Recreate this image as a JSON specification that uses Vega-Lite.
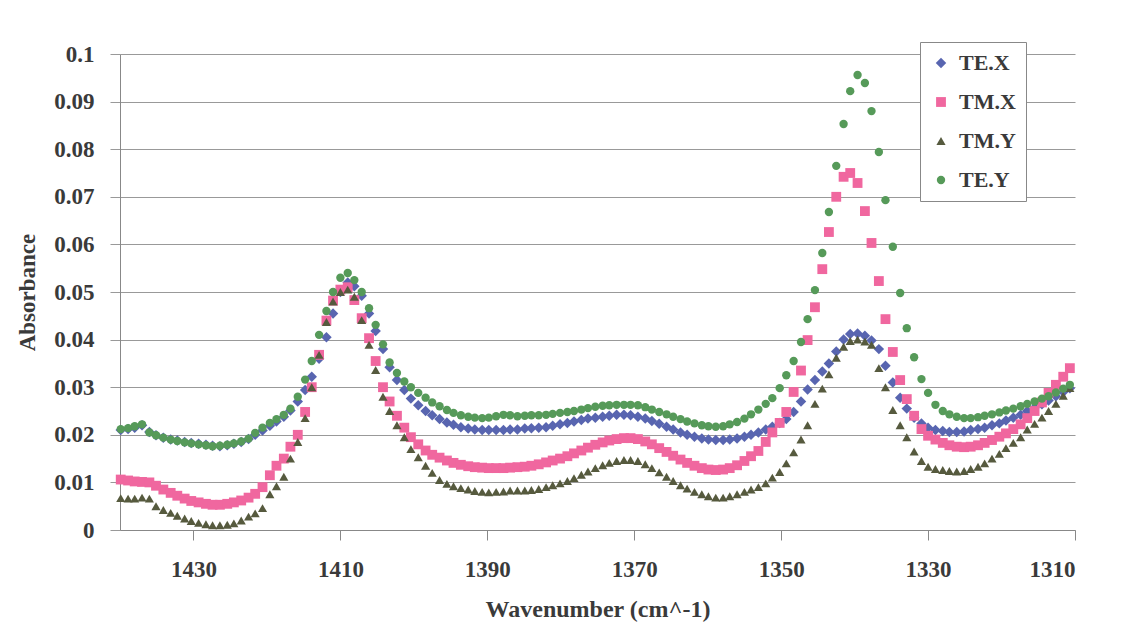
{
"$schema": "https://vega.github.io/schema/vega-lite/v6.json",
"width": 955, "height": 476,
"autosize": {"type": "none"},
"padding": {"left": 120, "top": 54, "right": 51, "bottom": 113},
"background": "white",
"config": {"view": {"stroke": null}, "font": "Times New Roman, Liberation Serif, DejaVu Serif, serif"},
"datasets": {"spec": [
{"w":1439.9,"s":"TE.X","a":0.0210},{"w":1438.9,"s":"TE.X","a":0.0212},{"w":1438.0,"s":"TE.X","a":0.0215},{"w":1437.0,"s":"TE.X","a":0.0220},{"w":1436.0,"s":"TE.X","a":0.0206},{"w":1435.1,"s":"TE.X","a":0.0199},{"w":1434.1,"s":"TE.X","a":0.0194},{"w":1433.1,"s":"TE.X","a":0.0190},{"w":1432.2,"s":"TE.X","a":0.0188},{"w":1431.2,"s":"TE.X","a":0.0185},{"w":1430.3,"s":"TE.X","a":0.0183},{"w":1429.3,"s":"TE.X","a":0.0181},{"w":1428.3,"s":"TE.X","a":0.0179},{"w":1427.4,"s":"TE.X","a":0.0177},{"w":1426.4,"s":"TE.X","a":0.0176},{"w":1425.4,"s":"TE.X","a":0.0178},{"w":1424.5,"s":"TE.X","a":0.0181},{"w":1423.5,"s":"TE.X","a":0.0185},{"w":1422.5,"s":"TE.X","a":0.0191},{"w":1421.6,"s":"TE.X","a":0.0200},{"w":1420.6,"s":"TE.X","a":0.0209},{"w":1419.6,"s":"TE.X","a":0.0219},{"w":1418.7,"s":"TE.X","a":0.0228},{"w":1417.7,"s":"TE.X","a":0.0238},{"w":1416.8,"s":"TE.X","a":0.0251},{"w":1415.8,"s":"TE.X","a":0.0270},{"w":1414.8,"s":"TE.X","a":0.0294},{"w":1413.9,"s":"TE.X","a":0.0322},{"w":1412.9,"s":"TE.X","a":0.0360},{"w":1411.9,"s":"TE.X","a":0.0405},{"w":1411.0,"s":"TE.X","a":0.0455},{"w":1410.0,"s":"TE.X","a":0.0500},{"w":1409.0,"s":"TE.X","a":0.0520},{"w":1408.1,"s":"TE.X","a":0.0512},{"w":1407.1,"s":"TE.X","a":0.0492},{"w":1406.1,"s":"TE.X","a":0.0455},{"w":1405.2,"s":"TE.X","a":0.0418},{"w":1404.2,"s":"TE.X","a":0.0380},{"w":1403.3,"s":"TE.X","a":0.0342},{"w":1402.3,"s":"TE.X","a":0.0315},{"w":1401.3,"s":"TE.X","a":0.0294},{"w":1400.4,"s":"TE.X","a":0.0276},{"w":1399.4,"s":"TE.X","a":0.0262},{"w":1398.4,"s":"TE.X","a":0.0250},{"w":1397.5,"s":"TE.X","a":0.0241},{"w":1396.5,"s":"TE.X","a":0.0233},{"w":1395.5,"s":"TE.X","a":0.0226},{"w":1394.6,"s":"TE.X","a":0.0221},{"w":1393.6,"s":"TE.X","a":0.0216},{"w":1392.6,"s":"TE.X","a":0.0213},{"w":1391.7,"s":"TE.X","a":0.0211},{"w":1390.7,"s":"TE.X","a":0.0210},{"w":1389.8,"s":"TE.X","a":0.0210},{"w":1388.8,"s":"TE.X","a":0.0210},{"w":1387.8,"s":"TE.X","a":0.0210},{"w":1386.9,"s":"TE.X","a":0.0211},{"w":1385.9,"s":"TE.X","a":0.0211},{"w":1384.9,"s":"TE.X","a":0.0213},{"w":1384.0,"s":"TE.X","a":0.0214},{"w":1383.0,"s":"TE.X","a":0.0215},{"w":1382.0,"s":"TE.X","a":0.0216},{"w":1381.1,"s":"TE.X","a":0.0219},{"w":1380.1,"s":"TE.X","a":0.0222},{"w":1379.1,"s":"TE.X","a":0.0225},{"w":1378.2,"s":"TE.X","a":0.0228},{"w":1377.2,"s":"TE.X","a":0.0231},{"w":1376.3,"s":"TE.X","a":0.0234},{"w":1375.3,"s":"TE.X","a":0.0236},{"w":1374.3,"s":"TE.X","a":0.0238},{"w":1373.4,"s":"TE.X","a":0.0240},{"w":1372.4,"s":"TE.X","a":0.0242},{"w":1371.4,"s":"TE.X","a":0.0242},{"w":1370.5,"s":"TE.X","a":0.0241},{"w":1369.5,"s":"TE.X","a":0.0238},{"w":1368.5,"s":"TE.X","a":0.0234},{"w":1367.6,"s":"TE.X","a":0.0229},{"w":1366.6,"s":"TE.X","a":0.0223},{"w":1365.6,"s":"TE.X","a":0.0217},{"w":1364.7,"s":"TE.X","a":0.0211},{"w":1363.7,"s":"TE.X","a":0.0205},{"w":1362.8,"s":"TE.X","a":0.0200},{"w":1361.8,"s":"TE.X","a":0.0196},{"w":1360.8,"s":"TE.X","a":0.0192},{"w":1359.9,"s":"TE.X","a":0.0190},{"w":1358.9,"s":"TE.X","a":0.0189},{"w":1357.9,"s":"TE.X","a":0.0189},{"w":1357.0,"s":"TE.X","a":0.0190},{"w":1356.0,"s":"TE.X","a":0.0192},{"w":1355.0,"s":"TE.X","a":0.0196},{"w":1354.1,"s":"TE.X","a":0.0200},{"w":1353.1,"s":"TE.X","a":0.0205},{"w":1352.1,"s":"TE.X","a":0.0211},{"w":1351.2,"s":"TE.X","a":0.0217},{"w":1350.2,"s":"TE.X","a":0.0225},{"w":1349.3,"s":"TE.X","a":0.0233},{"w":1348.3,"s":"TE.X","a":0.0248},{"w":1347.3,"s":"TE.X","a":0.0270},{"w":1346.4,"s":"TE.X","a":0.0295},{"w":1345.4,"s":"TE.X","a":0.0315},{"w":1344.4,"s":"TE.X","a":0.0333},{"w":1343.5,"s":"TE.X","a":0.0350},{"w":1342.5,"s":"TE.X","a":0.0375},{"w":1341.5,"s":"TE.X","a":0.0400},{"w":1340.6,"s":"TE.X","a":0.0412},{"w":1339.6,"s":"TE.X","a":0.0413},{"w":1338.6,"s":"TE.X","a":0.0408},{"w":1337.7,"s":"TE.X","a":0.0398},{"w":1336.7,"s":"TE.X","a":0.0380},{"w":1335.8,"s":"TE.X","a":0.0345},{"w":1334.8,"s":"TE.X","a":0.0310},{"w":1333.8,"s":"TE.X","a":0.0278},{"w":1332.9,"s":"TE.X","a":0.0255},{"w":1331.9,"s":"TE.X","a":0.0236},{"w":1330.9,"s":"TE.X","a":0.0224},{"w":1330.0,"s":"TE.X","a":0.0215},{"w":1329.0,"s":"TE.X","a":0.0210},{"w":1328.0,"s":"TE.X","a":0.0208},{"w":1327.1,"s":"TE.X","a":0.0206},{"w":1326.1,"s":"TE.X","a":0.0206},{"w":1325.1,"s":"TE.X","a":0.0207},{"w":1324.2,"s":"TE.X","a":0.0210},{"w":1323.2,"s":"TE.X","a":0.0212},{"w":1322.3,"s":"TE.X","a":0.0215},{"w":1321.3,"s":"TE.X","a":0.0220},{"w":1320.3,"s":"TE.X","a":0.0224},{"w":1319.4,"s":"TE.X","a":0.0230},{"w":1318.4,"s":"TE.X","a":0.0236},{"w":1317.4,"s":"TE.X","a":0.0242},{"w":1316.5,"s":"TE.X","a":0.0250},{"w":1315.5,"s":"TE.X","a":0.0257},{"w":1314.5,"s":"TE.X","a":0.0264},{"w":1313.6,"s":"TE.X","a":0.0272},{"w":1312.6,"s":"TE.X","a":0.0281},{"w":1311.6,"s":"TE.X","a":0.0290},{"w":1310.7,"s":"TE.X","a":0.0298},
{"w":1439.9,"s":"TM.X","a":0.0106},{"w":1438.9,"s":"TM.X","a":0.0104},{"w":1438.0,"s":"TM.X","a":0.0102},{"w":1437.0,"s":"TM.X","a":0.0101},{"w":1436.0,"s":"TM.X","a":0.0100},{"w":1435.1,"s":"TM.X","a":0.0093},{"w":1434.1,"s":"TM.X","a":0.0085},{"w":1433.1,"s":"TM.X","a":0.0078},{"w":1432.2,"s":"TM.X","a":0.0072},{"w":1431.2,"s":"TM.X","a":0.0066},{"w":1430.3,"s":"TM.X","a":0.0061},{"w":1429.3,"s":"TM.X","a":0.0058},{"w":1428.3,"s":"TM.X","a":0.0055},{"w":1427.4,"s":"TM.X","a":0.0053},{"w":1426.4,"s":"TM.X","a":0.0053},{"w":1425.4,"s":"TM.X","a":0.0055},{"w":1424.5,"s":"TM.X","a":0.0058},{"w":1423.5,"s":"TM.X","a":0.0062},{"w":1422.5,"s":"TM.X","a":0.0068},{"w":1421.6,"s":"TM.X","a":0.0076},{"w":1420.6,"s":"TM.X","a":0.0090},{"w":1419.6,"s":"TM.X","a":0.0115},{"w":1418.7,"s":"TM.X","a":0.0135},{"w":1417.7,"s":"TM.X","a":0.0150},{"w":1416.8,"s":"TM.X","a":0.0175},{"w":1415.8,"s":"TM.X","a":0.0200},{"w":1414.8,"s":"TM.X","a":0.0248},{"w":1413.9,"s":"TM.X","a":0.0300},{"w":1412.9,"s":"TM.X","a":0.0368},{"w":1411.9,"s":"TM.X","a":0.0440},{"w":1411.0,"s":"TM.X","a":0.0482},{"w":1410.0,"s":"TM.X","a":0.0505},{"w":1409.0,"s":"TM.X","a":0.0510},{"w":1408.1,"s":"TM.X","a":0.0483},{"w":1407.1,"s":"TM.X","a":0.0445},{"w":1406.1,"s":"TM.X","a":0.0403},{"w":1405.2,"s":"TM.X","a":0.0355},{"w":1404.2,"s":"TM.X","a":0.0300},{"w":1403.3,"s":"TM.X","a":0.0270},{"w":1402.3,"s":"TM.X","a":0.0240},{"w":1401.3,"s":"TM.X","a":0.0215},{"w":1400.4,"s":"TM.X","a":0.0195},{"w":1399.4,"s":"TM.X","a":0.0180},{"w":1398.4,"s":"TM.X","a":0.0167},{"w":1397.5,"s":"TM.X","a":0.0158},{"w":1396.5,"s":"TM.X","a":0.0152},{"w":1395.5,"s":"TM.X","a":0.0146},{"w":1394.6,"s":"TM.X","a":0.0141},{"w":1393.6,"s":"TM.X","a":0.0137},{"w":1392.6,"s":"TM.X","a":0.0134},{"w":1391.7,"s":"TM.X","a":0.0132},{"w":1390.7,"s":"TM.X","a":0.0131},{"w":1389.8,"s":"TM.X","a":0.0130},{"w":1388.8,"s":"TM.X","a":0.0130},{"w":1387.8,"s":"TM.X","a":0.0130},{"w":1386.9,"s":"TM.X","a":0.0131},{"w":1385.9,"s":"TM.X","a":0.0132},{"w":1384.9,"s":"TM.X","a":0.0133},{"w":1384.0,"s":"TM.X","a":0.0135},{"w":1383.0,"s":"TM.X","a":0.0138},{"w":1382.0,"s":"TM.X","a":0.0142},{"w":1381.1,"s":"TM.X","a":0.0146},{"w":1380.1,"s":"TM.X","a":0.0150},{"w":1379.1,"s":"TM.X","a":0.0155},{"w":1378.2,"s":"TM.X","a":0.0161},{"w":1377.2,"s":"TM.X","a":0.0167},{"w":1376.3,"s":"TM.X","a":0.0173},{"w":1375.3,"s":"TM.X","a":0.0179},{"w":1374.3,"s":"TM.X","a":0.0184},{"w":1373.4,"s":"TM.X","a":0.0188},{"w":1372.4,"s":"TM.X","a":0.0191},{"w":1371.4,"s":"TM.X","a":0.0193},{"w":1370.5,"s":"TM.X","a":0.0193},{"w":1369.5,"s":"TM.X","a":0.0191},{"w":1368.5,"s":"TM.X","a":0.0186},{"w":1367.6,"s":"TM.X","a":0.0180},{"w":1366.6,"s":"TM.X","a":0.0172},{"w":1365.6,"s":"TM.X","a":0.0164},{"w":1364.7,"s":"TM.X","a":0.0156},{"w":1363.7,"s":"TM.X","a":0.0148},{"w":1362.8,"s":"TM.X","a":0.0141},{"w":1361.8,"s":"TM.X","a":0.0135},{"w":1360.8,"s":"TM.X","a":0.0130},{"w":1359.9,"s":"TM.X","a":0.0127},{"w":1358.9,"s":"TM.X","a":0.0126},{"w":1357.9,"s":"TM.X","a":0.0127},{"w":1357.0,"s":"TM.X","a":0.0130},{"w":1356.0,"s":"TM.X","a":0.0136},{"w":1355.0,"s":"TM.X","a":0.0145},{"w":1354.1,"s":"TM.X","a":0.0155},{"w":1353.1,"s":"TM.X","a":0.0166},{"w":1352.1,"s":"TM.X","a":0.0185},{"w":1351.2,"s":"TM.X","a":0.0205},{"w":1350.2,"s":"TM.X","a":0.0225},{"w":1349.3,"s":"TM.X","a":0.0248},{"w":1348.3,"s":"TM.X","a":0.0290},{"w":1347.3,"s":"TM.X","a":0.0335},{"w":1346.4,"s":"TM.X","a":0.0399},{"w":1345.4,"s":"TM.X","a":0.0468},{"w":1344.4,"s":"TM.X","a":0.0548},{"w":1343.5,"s":"TM.X","a":0.0626},{"w":1342.5,"s":"TM.X","a":0.0700},{"w":1341.5,"s":"TM.X","a":0.0742},{"w":1340.6,"s":"TM.X","a":0.0750},{"w":1339.6,"s":"TM.X","a":0.0729},{"w":1338.6,"s":"TM.X","a":0.0670},{"w":1337.7,"s":"TM.X","a":0.0603},{"w":1336.7,"s":"TM.X","a":0.0523},{"w":1335.8,"s":"TM.X","a":0.0443},{"w":1334.8,"s":"TM.X","a":0.0374},{"w":1333.8,"s":"TM.X","a":0.0315},{"w":1332.9,"s":"TM.X","a":0.0275},{"w":1331.9,"s":"TM.X","a":0.0240},{"w":1330.9,"s":"TM.X","a":0.0212},{"w":1330.0,"s":"TM.X","a":0.0198},{"w":1329.0,"s":"TM.X","a":0.0190},{"w":1328.0,"s":"TM.X","a":0.0183},{"w":1327.1,"s":"TM.X","a":0.0178},{"w":1326.1,"s":"TM.X","a":0.0175},{"w":1325.1,"s":"TM.X","a":0.0174},{"w":1324.2,"s":"TM.X","a":0.0175},{"w":1323.2,"s":"TM.X","a":0.0178},{"w":1322.3,"s":"TM.X","a":0.0183},{"w":1321.3,"s":"TM.X","a":0.0189},{"w":1320.3,"s":"TM.X","a":0.0196},{"w":1319.4,"s":"TM.X","a":0.0203},{"w":1318.4,"s":"TM.X","a":0.0212},{"w":1317.4,"s":"TM.X","a":0.0222},{"w":1316.5,"s":"TM.X","a":0.0235},{"w":1315.5,"s":"TM.X","a":0.0250},{"w":1314.5,"s":"TM.X","a":0.0268},{"w":1313.6,"s":"TM.X","a":0.0288},{"w":1312.6,"s":"TM.X","a":0.0305},{"w":1311.6,"s":"TM.X","a":0.0322},{"w":1310.7,"s":"TM.X","a":0.0340},
{"w":1439.9,"s":"TM.Y","a":0.0067},{"w":1438.9,"s":"TM.Y","a":0.0066},{"w":1438.0,"s":"TM.Y","a":0.0066},{"w":1437.0,"s":"TM.Y","a":0.0068},{"w":1436.0,"s":"TM.Y","a":0.0066},{"w":1435.1,"s":"TM.Y","a":0.0050},{"w":1434.1,"s":"TM.Y","a":0.0042},{"w":1433.1,"s":"TM.Y","a":0.0036},{"w":1432.2,"s":"TM.Y","a":0.0030},{"w":1431.2,"s":"TM.Y","a":0.0024},{"w":1430.3,"s":"TM.Y","a":0.0019},{"w":1429.3,"s":"TM.Y","a":0.0015},{"w":1428.3,"s":"TM.Y","a":0.0012},{"w":1427.4,"s":"TM.Y","a":0.0010},{"w":1426.4,"s":"TM.Y","a":0.0010},{"w":1425.4,"s":"TM.Y","a":0.0011},{"w":1424.5,"s":"TM.Y","a":0.0014},{"w":1423.5,"s":"TM.Y","a":0.0020},{"w":1422.5,"s":"TM.Y","a":0.0028},{"w":1421.6,"s":"TM.Y","a":0.0035},{"w":1420.6,"s":"TM.Y","a":0.0046},{"w":1419.6,"s":"TM.Y","a":0.0075},{"w":1418.7,"s":"TM.Y","a":0.0092},{"w":1417.7,"s":"TM.Y","a":0.0112},{"w":1416.8,"s":"TM.Y","a":0.0150},{"w":1415.8,"s":"TM.Y","a":0.0185},{"w":1414.8,"s":"TM.Y","a":0.0235},{"w":1413.9,"s":"TM.Y","a":0.0300},{"w":1412.9,"s":"TM.Y","a":0.0368},{"w":1411.9,"s":"TM.Y","a":0.0437},{"w":1411.0,"s":"TM.Y","a":0.0480},{"w":1410.0,"s":"TM.Y","a":0.0500},{"w":1409.0,"s":"TM.Y","a":0.0505},{"w":1408.1,"s":"TM.Y","a":0.0490},{"w":1407.1,"s":"TM.Y","a":0.0441},{"w":1406.1,"s":"TM.Y","a":0.0389},{"w":1405.2,"s":"TM.Y","a":0.0336},{"w":1404.2,"s":"TM.Y","a":0.0280},{"w":1403.3,"s":"TM.Y","a":0.0250},{"w":1402.3,"s":"TM.Y","a":0.0220},{"w":1401.3,"s":"TM.Y","a":0.0195},{"w":1400.4,"s":"TM.Y","a":0.0170},{"w":1399.4,"s":"TM.Y","a":0.0153},{"w":1398.4,"s":"TM.Y","a":0.0135},{"w":1397.5,"s":"TM.Y","a":0.0120},{"w":1396.5,"s":"TM.Y","a":0.0105},{"w":1395.5,"s":"TM.Y","a":0.0097},{"w":1394.6,"s":"TM.Y","a":0.0092},{"w":1393.6,"s":"TM.Y","a":0.0088},{"w":1392.6,"s":"TM.Y","a":0.0085},{"w":1391.7,"s":"TM.Y","a":0.0082},{"w":1390.7,"s":"TM.Y","a":0.0080},{"w":1389.8,"s":"TM.Y","a":0.0079},{"w":1388.8,"s":"TM.Y","a":0.0080},{"w":1387.8,"s":"TM.Y","a":0.0081},{"w":1386.9,"s":"TM.Y","a":0.0083},{"w":1385.9,"s":"TM.Y","a":0.0083},{"w":1384.9,"s":"TM.Y","a":0.0083},{"w":1384.0,"s":"TM.Y","a":0.0084},{"w":1383.0,"s":"TM.Y","a":0.0086},{"w":1382.0,"s":"TM.Y","a":0.0090},{"w":1381.1,"s":"TM.Y","a":0.0094},{"w":1380.1,"s":"TM.Y","a":0.0098},{"w":1379.1,"s":"TM.Y","a":0.0103},{"w":1378.2,"s":"TM.Y","a":0.0109},{"w":1377.2,"s":"TM.Y","a":0.0116},{"w":1376.3,"s":"TM.Y","a":0.0123},{"w":1375.3,"s":"TM.Y","a":0.0130},{"w":1374.3,"s":"TM.Y","a":0.0136},{"w":1373.4,"s":"TM.Y","a":0.0141},{"w":1372.4,"s":"TM.Y","a":0.0145},{"w":1371.4,"s":"TM.Y","a":0.0147},{"w":1370.5,"s":"TM.Y","a":0.0147},{"w":1369.5,"s":"TM.Y","a":0.0145},{"w":1368.5,"s":"TM.Y","a":0.0138},{"w":1367.6,"s":"TM.Y","a":0.0130},{"w":1366.6,"s":"TM.Y","a":0.0121},{"w":1365.6,"s":"TM.Y","a":0.0112},{"w":1364.7,"s":"TM.Y","a":0.0103},{"w":1363.7,"s":"TM.Y","a":0.0094},{"w":1362.8,"s":"TM.Y","a":0.0087},{"w":1361.8,"s":"TM.Y","a":0.0080},{"w":1360.8,"s":"TM.Y","a":0.0075},{"w":1359.9,"s":"TM.Y","a":0.0071},{"w":1358.9,"s":"TM.Y","a":0.0068},{"w":1357.9,"s":"TM.Y","a":0.0068},{"w":1357.0,"s":"TM.Y","a":0.0071},{"w":1356.0,"s":"TM.Y","a":0.0075},{"w":1355.0,"s":"TM.Y","a":0.0080},{"w":1354.1,"s":"TM.Y","a":0.0085},{"w":1353.1,"s":"TM.Y","a":0.0090},{"w":1352.1,"s":"TM.Y","a":0.0098},{"w":1351.2,"s":"TM.Y","a":0.0110},{"w":1350.2,"s":"TM.Y","a":0.0122},{"w":1349.3,"s":"TM.Y","a":0.0140},{"w":1348.3,"s":"TM.Y","a":0.0163},{"w":1347.3,"s":"TM.Y","a":0.0190},{"w":1346.4,"s":"TM.Y","a":0.0220},{"w":1345.4,"s":"TM.Y","a":0.0265},{"w":1344.4,"s":"TM.Y","a":0.0297},{"w":1343.5,"s":"TM.Y","a":0.0327},{"w":1342.5,"s":"TM.Y","a":0.0362},{"w":1341.5,"s":"TM.Y","a":0.0385},{"w":1340.6,"s":"TM.Y","a":0.0397},{"w":1339.6,"s":"TM.Y","a":0.0400},{"w":1338.6,"s":"TM.Y","a":0.0396},{"w":1337.7,"s":"TM.Y","a":0.0389},{"w":1336.7,"s":"TM.Y","a":0.0340},{"w":1335.8,"s":"TM.Y","a":0.0300},{"w":1334.8,"s":"TM.Y","a":0.0252},{"w":1333.8,"s":"TM.Y","a":0.0220},{"w":1332.9,"s":"TM.Y","a":0.0195},{"w":1331.9,"s":"TM.Y","a":0.0165},{"w":1330.9,"s":"TM.Y","a":0.0145},{"w":1330.0,"s":"TM.Y","a":0.0133},{"w":1329.0,"s":"TM.Y","a":0.0128},{"w":1328.0,"s":"TM.Y","a":0.0126},{"w":1327.1,"s":"TM.Y","a":0.0124},{"w":1326.1,"s":"TM.Y","a":0.0123},{"w":1325.1,"s":"TM.Y","a":0.0124},{"w":1324.2,"s":"TM.Y","a":0.0128},{"w":1323.2,"s":"TM.Y","a":0.0133},{"w":1322.3,"s":"TM.Y","a":0.0140},{"w":1321.3,"s":"TM.Y","a":0.0150},{"w":1320.3,"s":"TM.Y","a":0.0160},{"w":1319.4,"s":"TM.Y","a":0.0172},{"w":1318.4,"s":"TM.Y","a":0.0183},{"w":1317.4,"s":"TM.Y","a":0.0195},{"w":1316.5,"s":"TM.Y","a":0.0211},{"w":1315.5,"s":"TM.Y","a":0.0223},{"w":1314.5,"s":"TM.Y","a":0.0236},{"w":1313.6,"s":"TM.Y","a":0.0250},{"w":1312.6,"s":"TM.Y","a":0.0265},{"w":1311.6,"s":"TM.Y","a":0.0282},{"w":1310.7,"s":"TM.Y","a":0.0298},
{"w":1439.9,"s":"TE.Y","a":0.0212},{"w":1438.9,"s":"TE.Y","a":0.0214},{"w":1438.0,"s":"TE.Y","a":0.0218},{"w":1437.0,"s":"TE.Y","a":0.0222},{"w":1436.0,"s":"TE.Y","a":0.0205},{"w":1435.1,"s":"TE.Y","a":0.0199},{"w":1434.1,"s":"TE.Y","a":0.0194},{"w":1433.1,"s":"TE.Y","a":0.0190},{"w":1432.2,"s":"TE.Y","a":0.0187},{"w":1431.2,"s":"TE.Y","a":0.0184},{"w":1430.3,"s":"TE.Y","a":0.0182},{"w":1429.3,"s":"TE.Y","a":0.0180},{"w":1428.3,"s":"TE.Y","a":0.0178},{"w":1427.4,"s":"TE.Y","a":0.0176},{"w":1426.4,"s":"TE.Y","a":0.0177},{"w":1425.4,"s":"TE.Y","a":0.0179},{"w":1424.5,"s":"TE.Y","a":0.0182},{"w":1423.5,"s":"TE.Y","a":0.0186},{"w":1422.5,"s":"TE.Y","a":0.0192},{"w":1421.6,"s":"TE.Y","a":0.0204},{"w":1420.6,"s":"TE.Y","a":0.0215},{"w":1419.6,"s":"TE.Y","a":0.0225},{"w":1418.7,"s":"TE.Y","a":0.0233},{"w":1417.7,"s":"TE.Y","a":0.0242},{"w":1416.8,"s":"TE.Y","a":0.0255},{"w":1415.8,"s":"TE.Y","a":0.0280},{"w":1414.8,"s":"TE.Y","a":0.0316},{"w":1413.9,"s":"TE.Y","a":0.0355},{"w":1412.9,"s":"TE.Y","a":0.0410},{"w":1411.9,"s":"TE.Y","a":0.0460},{"w":1411.0,"s":"TE.Y","a":0.0500},{"w":1410.0,"s":"TE.Y","a":0.0530},{"w":1409.0,"s":"TE.Y","a":0.0540},{"w":1408.1,"s":"TE.Y","a":0.0525},{"w":1407.1,"s":"TE.Y","a":0.0500},{"w":1406.1,"s":"TE.Y","a":0.0466},{"w":1405.2,"s":"TE.Y","a":0.0431},{"w":1404.2,"s":"TE.Y","a":0.0390},{"w":1403.3,"s":"TE.Y","a":0.0352},{"w":1402.3,"s":"TE.Y","a":0.0330},{"w":1401.3,"s":"TE.Y","a":0.0312},{"w":1400.4,"s":"TE.Y","a":0.0300},{"w":1399.4,"s":"TE.Y","a":0.0288},{"w":1398.4,"s":"TE.Y","a":0.0278},{"w":1397.5,"s":"TE.Y","a":0.0268},{"w":1396.5,"s":"TE.Y","a":0.0260},{"w":1395.5,"s":"TE.Y","a":0.0252},{"w":1394.6,"s":"TE.Y","a":0.0246},{"w":1393.6,"s":"TE.Y","a":0.0241},{"w":1392.6,"s":"TE.Y","a":0.0238},{"w":1391.7,"s":"TE.Y","a":0.0236},{"w":1390.7,"s":"TE.Y","a":0.0235},{"w":1389.8,"s":"TE.Y","a":0.0236},{"w":1388.8,"s":"TE.Y","a":0.0239},{"w":1387.8,"s":"TE.Y","a":0.0242},{"w":1386.9,"s":"TE.Y","a":0.0241},{"w":1385.9,"s":"TE.Y","a":0.0239},{"w":1384.9,"s":"TE.Y","a":0.0240},{"w":1384.0,"s":"TE.Y","a":0.0241},{"w":1383.0,"s":"TE.Y","a":0.0241},{"w":1382.0,"s":"TE.Y","a":0.0242},{"w":1381.1,"s":"TE.Y","a":0.0244},{"w":1380.1,"s":"TE.Y","a":0.0246},{"w":1379.1,"s":"TE.Y","a":0.0248},{"w":1378.2,"s":"TE.Y","a":0.0250},{"w":1377.2,"s":"TE.Y","a":0.0253},{"w":1376.3,"s":"TE.Y","a":0.0256},{"w":1375.3,"s":"TE.Y","a":0.0259},{"w":1374.3,"s":"TE.Y","a":0.0261},{"w":1373.4,"s":"TE.Y","a":0.0262},{"w":1372.4,"s":"TE.Y","a":0.0263},{"w":1371.4,"s":"TE.Y","a":0.0263},{"w":1370.5,"s":"TE.Y","a":0.0263},{"w":1369.5,"s":"TE.Y","a":0.0262},{"w":1368.5,"s":"TE.Y","a":0.0258},{"w":1367.6,"s":"TE.Y","a":0.0253},{"w":1366.6,"s":"TE.Y","a":0.0248},{"w":1365.6,"s":"TE.Y","a":0.0243},{"w":1364.7,"s":"TE.Y","a":0.0238},{"w":1363.7,"s":"TE.Y","a":0.0233},{"w":1362.8,"s":"TE.Y","a":0.0228},{"w":1361.8,"s":"TE.Y","a":0.0224},{"w":1360.8,"s":"TE.Y","a":0.0220},{"w":1359.9,"s":"TE.Y","a":0.0218},{"w":1358.9,"s":"TE.Y","a":0.0217},{"w":1357.9,"s":"TE.Y","a":0.0218},{"w":1357.0,"s":"TE.Y","a":0.0222},{"w":1356.0,"s":"TE.Y","a":0.0227},{"w":1355.0,"s":"TE.Y","a":0.0234},{"w":1354.1,"s":"TE.Y","a":0.0243},{"w":1353.1,"s":"TE.Y","a":0.0253},{"w":1352.1,"s":"TE.Y","a":0.0265},{"w":1351.2,"s":"TE.Y","a":0.0277},{"w":1350.2,"s":"TE.Y","a":0.0298},{"w":1349.3,"s":"TE.Y","a":0.0325},{"w":1348.3,"s":"TE.Y","a":0.0355},{"w":1347.3,"s":"TE.Y","a":0.0395},{"w":1346.4,"s":"TE.Y","a":0.0443},{"w":1345.4,"s":"TE.Y","a":0.0504},{"w":1344.4,"s":"TE.Y","a":0.0582},{"w":1343.5,"s":"TE.Y","a":0.0668},{"w":1342.5,"s":"TE.Y","a":0.0765},{"w":1341.5,"s":"TE.Y","a":0.0853},{"w":1340.6,"s":"TE.Y","a":0.0922},{"w":1339.6,"s":"TE.Y","a":0.0956},{"w":1338.6,"s":"TE.Y","a":0.0939},{"w":1337.7,"s":"TE.Y","a":0.0880},{"w":1336.7,"s":"TE.Y","a":0.0794},{"w":1335.8,"s":"TE.Y","a":0.0693},{"w":1334.8,"s":"TE.Y","a":0.0595},{"w":1333.8,"s":"TE.Y","a":0.0498},{"w":1332.9,"s":"TE.Y","a":0.0424},{"w":1331.9,"s":"TE.Y","a":0.0363},{"w":1330.9,"s":"TE.Y","a":0.0317},{"w":1330.0,"s":"TE.Y","a":0.0288},{"w":1329.0,"s":"TE.Y","a":0.0263},{"w":1328.0,"s":"TE.Y","a":0.0250},{"w":1327.1,"s":"TE.Y","a":0.0243},{"w":1326.1,"s":"TE.Y","a":0.0238},{"w":1325.1,"s":"TE.Y","a":0.0235},{"w":1324.2,"s":"TE.Y","a":0.0235},{"w":1323.2,"s":"TE.Y","a":0.0237},{"w":1322.3,"s":"TE.Y","a":0.0240},{"w":1321.3,"s":"TE.Y","a":0.0243},{"w":1320.3,"s":"TE.Y","a":0.0247},{"w":1319.4,"s":"TE.Y","a":0.0251},{"w":1318.4,"s":"TE.Y","a":0.0255},{"w":1317.4,"s":"TE.Y","a":0.0260},{"w":1316.5,"s":"TE.Y","a":0.0265},{"w":1315.5,"s":"TE.Y","a":0.0270},{"w":1314.5,"s":"TE.Y","a":0.0276},{"w":1313.6,"s":"TE.Y","a":0.0281},{"w":1312.6,"s":"TE.Y","a":0.0289},{"w":1311.6,"s":"TE.Y","a":0.0297},{"w":1310.7,"s":"TE.Y","a":0.0305}
]},
"data": {"name": "spec"},
"mark": {"type": "point", "filled": true, "opacity": 1},
"encoding": {
  "x": {"field": "w", "type": "quantitative",
    "scale": {"domain": [1310, 1440], "reverse": true, "nice": false, "zero": false},
    "axis": {"title": "Wavenumber (cm^-1)", "values": [1430, 1410, 1390, 1370, 1350, 1330, 1310], "format": "d",
      "grid": false, "domainColor": "#888", "tickColor": "#888", "tickSize": 10,
      "labelFont": "Times New Roman, Liberation Serif, serif", "labelFontSize": 23, "labelFontWeight": "bold", "labelColor": "#3a3a3a", "labelPadding": 18,
      "titleFont": "Times New Roman, Liberation Serif, serif", "titleFontSize": 24, "titleFontWeight": "bold", "titleColor": "#3a3a3a", "titlePadding": 16}},
  "y": {"field": "a", "type": "quantitative",
    "scale": {"domain": [0, 0.1], "nice": false},
    "axis": {"title": "Absorbance", "values": [0, 0.01, 0.02, 0.03, 0.04, 0.05, 0.06, 0.07, 0.08, 0.09, 0.1], "format": "~g",
      "grid": true, "gridColor": "#999", "gridWidth": 1, "domainColor": "#888", "tickColor": "#999", "tickSize": 10,
      "labelFont": "Times New Roman, Liberation Serif, serif", "labelFontSize": 23, "labelFontWeight": "bold", "labelColor": "#3a3a3a", "labelPadding": 16,
      "titleFont": "Times New Roman, Liberation Serif, serif", "titleFontSize": 23, "titleFontWeight": "bold", "titleColor": "#3a3a3a", "titlePadding": 14}},
  "color": {"field": "s", "type": "nominal",
    "scale": {"domain": ["TE.X", "TM.X", "TM.Y", "TE.Y"], "range": ["#5865b0", "#f0679f", "#565a3e", "#569a59"]},
    "legend": {"title": null, "orient": "none", "legendX": 800, "legendY": -12, "fillColor": "white", "strokeColor": "#888",
      "padding": 10, "labelFont": "Times New Roman, Liberation Serif, serif", "labelFontSize": 22, "labelFontWeight": "bold", "labelColor": "#3a3a3a",
      "rowPadding": 17, "symbolSize": 45, "labelOffset": 7, "symbolOpacity": 1}},
  "shape": {"field": "s", "type": "nominal",
    "scale": {"domain": ["TE.X", "TM.X", "TM.Y", "TE.Y"], "range": ["diamond", "square", "triangle-up", "circle"]}},
  "size": {"field": "s", "type": "nominal",
    "scale": {"domain": ["TE.X", "TM.X", "TM.Y", "TE.Y"], "range": [110, 70, 135, 75]}, "legend": null}
}
}
